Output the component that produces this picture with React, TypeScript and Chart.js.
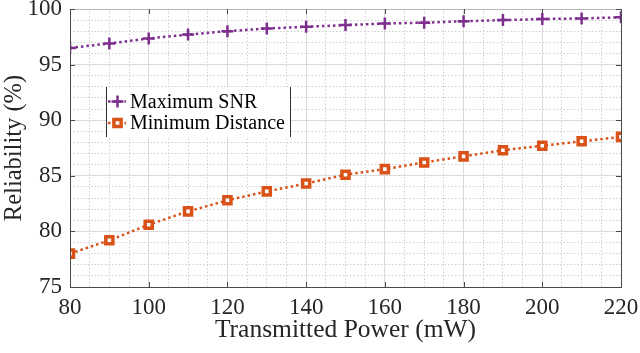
import React, { useEffect, useRef } from "react";
import { Chart, registerables } from "chart.js";

Chart.register(...registerables);

const power = [80, 90, 100, 110, 120, 130, 140, 150, 160, 170, 180, 190, 200, 210, 220];
const maxSnr = [96.5, 96.9, 97.35, 97.7, 98.0, 98.25, 98.4, 98.55, 98.7, 98.77, 98.9, 99.0, 99.1, 99.15, 99.25];
const minDist = [78.0, 79.2, 80.6, 81.8, 82.8, 83.6, 84.3, 85.1, 85.6, 86.2, 86.75, 87.3, 87.7, 88.1, 88.5];
const seriesLabels = ["Maximum SNR", "Minimum Distance"];
const xTitle = "Transmitted Power (mW)";
const yTitle = "Reliability (%)";

const PURPLE = "#7E2F8E";
const ORANGE = "#D95319";
const FONT = "'Liberation Serif', 'Times New Roman', serif";

function drawMarker(ctx: CanvasRenderingContext2D, style: string, x: number, y: number, color: string) {
  ctx.save();
  ctx.strokeStyle = color;
  if (style === "cross") {
    ctx.lineWidth = 2.5;
    ctx.beginPath();
    ctx.moveTo(x - 6, y);
    ctx.lineTo(x + 6, y);
    ctx.moveTo(x, y - 6);
    ctx.lineTo(x, y + 6);
    ctx.stroke();
  } else {
    ctx.lineWidth = 3.5;
    ctx.fillStyle = "#fff";
    const s = 3.6;
    ctx.beginPath();
    ctx.rect(x - s, y - s, 2 * s, 2 * s);
    ctx.fill();
    ctx.stroke();
  }
  ctx.restore();
}

const framePlugin = {
  id: "frame",
  afterDatasetsDraw(chart: any) {
    const { ctx, chartArea } = chart;
    const { left, right, top, bottom } = chartArea;
    const xs = chart.scales.x;
    const ys = chart.scales.y;
    ctx.save();
    ctx.lineWidth = 1;
    ctx.strokeStyle = "#b8b8b8";
    ctx.beginPath();
    ctx.moveTo(left, Math.round(top) + 0.5);
    ctx.lineTo(right, Math.round(top) + 0.5);
    ctx.stroke();
    ctx.strokeStyle = "#4a4a4a";
    ctx.beginPath();
    ctx.moveTo(Math.round(left) + 0.5, top);
    ctx.lineTo(Math.round(left) + 0.5, bottom);
    ctx.moveTo(Math.round(right) + 0.5, top);
    ctx.lineTo(Math.round(right) + 0.5, bottom);
    ctx.moveTo(left, Math.round(bottom) + 0.5);
    ctx.lineTo(right + 1, Math.round(bottom) + 0.5);
    ctx.stroke();
    const tl = 5;
    ctx.beginPath();
    xs.ticks.forEach((t: any) => {
      const px = Math.round(xs.getPixelForValue(t.value)) + 0.5;
      ctx.moveTo(px, bottom);
      ctx.lineTo(px, bottom - tl);
      ctx.moveTo(px, top);
      ctx.lineTo(px, top + tl);
    });
    ys.ticks.forEach((t: any) => {
      const py = Math.round(ys.getPixelForValue(t.value)) + 0.5;
      ctx.moveTo(left, py);
      ctx.lineTo(left + tl, py);
      ctx.moveTo(right, py);
      ctx.lineTo(right - tl, py);
    });
    ctx.stroke();
    ctx.restore();
  },
};

const legendPlugin = {
  id: "insideLegend",
  afterDraw(chart: any) {
    const { ctx } = chart;
    const bx = 106, by = 87, bw = 184, bh = 50;
    ctx.save();
    ctx.fillStyle = "#fff";
    ctx.fillRect(bx, by, bw, bh);
    ctx.strokeStyle = "#333";
    ctx.lineWidth = 1;
    ctx.beginPath();
    ctx.moveTo(bx + 0.5, by);
    ctx.lineTo(bx + 0.5, by + bh);
    ctx.moveTo(bx + bw + 0.5, by);
    ctx.lineTo(bx + bw + 0.5, by + bh);
    ctx.stroke();
    const rows = [101.5, 123];
    chart.data.datasets.forEach((ds: any, i: number) => {
      const y = rows[i];
      ctx.strokeStyle = ds.borderColor;
      ctx.lineWidth = 2.5;
      ctx.setLineDash([2.5, 3]);
      ctx.beginPath();
      ctx.moveTo(108, y);
      ctx.lineTo(126, y);
      ctx.stroke();
      ctx.setLineDash([]);
      drawMarker(ctx, ds.pointStyle, 117.5, y, ds.borderColor);
      ctx.fillStyle = "#000";
      ctx.font = `20px ${FONT}`;
      ctx.textBaseline = "middle";
      ctx.textAlign = "left";
      ctx.fillText(ds.label, 130, y + 1);
    });
    ctx.restore();
  },
};

export default function App() {
  const ref = useRef<HTMLCanvasElement>(null);
  useEffect(() => {
    document.body.style.margin = "0";
    const canvas = ref.current!;
    const chart = new Chart(canvas, {
      type: "line",
      data: {
        datasets: [
          {
            label: seriesLabels[0],
            data: power.map((p, i) => ({ x: p, y: maxSnr[i] })),
            borderColor: PURPLE,
            backgroundColor: PURPLE,
            borderWidth: 2.5,
            borderDash: [2.5, 3],
            pointStyle: "cross",
            pointRadius: 6,
            pointBorderWidth: 2.5,
            pointBorderColor: PURPLE,
            fill: false,
            tension: 0,
          },
          {
            label: seriesLabels[1],
            data: power.map((p, i) => ({ x: p, y: minDist[i] })),
            borderColor: ORANGE,
            backgroundColor: "#fff",
            borderWidth: 2.5,
            borderDash: [2.5, 3],
            pointStyle: "rect",
            pointRadius: 5,
            pointBorderWidth: 3.5,
            pointBorderColor: ORANGE,
            pointBackgroundColor: "#fff",
            fill: false,
            tension: 0,
          },
        ],
      },
      options: {
        animation: false,
        responsive: false,
        devicePixelRatio: 1,
        layout: { padding: { top: 9, right: 19, left: 0, bottom: 0 } },
        plugins: { legend: { display: false }, tooltip: { enabled: false } },
        scales: {
          xMinor: {
            type: "linear",
            position: "bottom",
            min: 80,
            max: 220,
            z: -1,
            ticks: { display: false, stepSize: 5 },
            grid: { color: "#cfcfcf", lineWidth: 1, drawTicks: false },
            border: { display: false, dash: [1.5, 2] },
            afterFit: (s: any) => { s.height = 0; s.paddingLeft = 0; s.paddingRight = 0; },
          },
          yMinor: {
            type: "linear",
            position: "right",
            min: 75,
            max: 100,
            z: -1,
            ticks: { display: false, stepSize: 1 },
            grid: { color: "#cfcfcf", lineWidth: 1, drawTicks: false },
            border: { display: false, dash: [1.5, 2] },
            afterFit: (s: any) => { s.width = 0; s.paddingTop = 0; s.paddingBottom = 0; },
          },
          x: {
            type: "linear",
            position: "bottom",
            min: 80,
            max: 220,
            ticks: {
              stepSize: 20,
              color: "#262626",
              font: { family: FONT, size: 23 },
              padding: 7,
              maxRotation: 0,
            },
            grid: { color: "#dadada", lineWidth: 1, drawTicks: false },
            border: { display: false },
            title: {
              display: true,
              text: xTitle,
              color: "#262626",
              font: { family: FONT, size: 25.5 },
              padding: { top: 0, bottom: 7 },
            },
            afterFit: (s: any) => { s.height = 66; s.paddingLeft = 0; s.paddingRight = 0; },
          },
          y: {
            type: "linear",
            position: "left",
            min: 75,
            max: 100,
            ticks: {
              stepSize: 5,
              color: "#262626",
              font: { family: FONT, size: 23 },
              padding: 8,
            },
            grid: { color: "#dadada", lineWidth: 1, drawTicks: false },
            border: { display: false },
            title: {
              display: true,
              text: yTitle,
              color: "#262626",
              font: { family: FONT, size: 24.5 },
              padding: { top: 0, bottom: 0 },
            },
            afterFit: (s: any) => { s.width = 70; s.paddingTop = 0; s.paddingBottom = 0; },
          },
        },
      },
      plugins: [framePlugin, legendPlugin],
    });
    return () => chart.destroy();
  }, []);
  return (
    <div style={{ position: "absolute", left: 0, top: 0, width: 640, height: 353, background: "#fff" }}>
      <canvas ref={ref} width={640} height={353} style={{ width: 640, height: 353, display: "block" }} />
    </div>
  );
}
